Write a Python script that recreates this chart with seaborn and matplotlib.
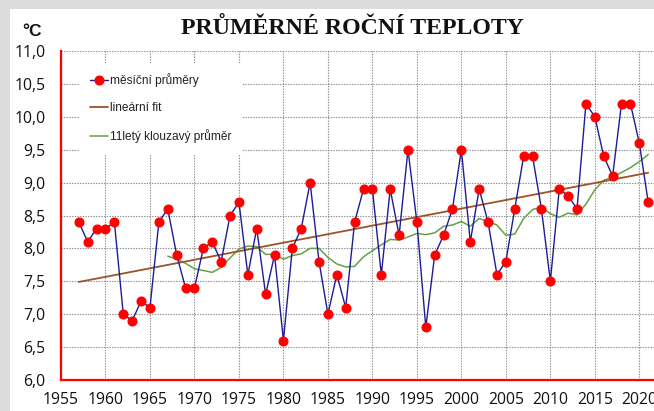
import numpy as np
import pandas as pd
import matplotlib
matplotlib.use("Agg")
import matplotlib.pyplot as plt
import seaborn as sns
from matplotlib.ticker import MultipleLocator, FuncFormatter
from matplotlib.patches import Rectangle

years = list(range(1957, 2022))
temps = [8.4, 8.1, 8.3, 8.3, 8.4, 7.0, 6.9, 7.2, 7.1, 8.4,
         8.6, 7.9, 7.4, 7.4, 8.0, 8.1, 7.8, 8.5, 8.7, 7.6,
         8.3, 7.3, 7.9, 6.6, 8.0, 8.3, 9.0, 7.8, 7.0, 7.6,
         7.1, 8.4, 8.9, 8.9, 7.6, 8.9, 8.2, 9.5, 8.4, 6.8,
         7.9, 8.2, 8.6, 9.5, 8.1, 8.9, 8.4, 7.6, 7.8, 8.6,
         9.4, 9.4, 8.6, 7.5, 8.9, 8.8, 8.6, 10.2, 10.0, 9.4,
         9.1, 10.2, 10.2, 9.6, 8.7]

label_main = "měsíční průměry"
label_fit = "lineární fit"
label_ma = "11letý klouzavý průměr"
title = "PRŮMĚRNÉ ROČNÍ TEPLOTY"
unit = "°C"

df = pd.DataFrame({"rok": years, "t": temps})
coef = np.polyfit(df["rok"], df["t"], 1)
df["fit"] = np.polyval(coef, df["rok"])
df["ma"] = df["t"].rolling(11).mean()

sns.set_style("white")
plt.rcParams["font.family"] = ["Open Sans", "DejaVu Sans"]

fig = plt.figure(figsize=(6.54, 4.11), dpi=100)
fig.patch.set_facecolor("#dcdcdc")
bg = Rectangle((10 / 654, 0), 1, 1 - 9 / 411, transform=fig.transFigure,
               facecolor="white", edgecolor="none", zorder=-10)
fig.patches.append(bg)

ax = fig.add_axes([61 / 654, 31 / 411, 1 - 61 / 654, 329 / 411])
ax.set_facecolor("white")
ax.set_zorder(1)

red = "#ff0000"
blue = "#1c1c98"
brown = "#9a5428"
green = "#65a046"

sns.lineplot(data=df, x="rok", y="ma", ax=ax, color=green, linewidth=1.1,
             label=label_ma, zorder=3)
sns.lineplot(data=df, x="rok", y="fit", ax=ax, color=brown, linewidth=1.3,
             label=label_fit, zorder=3)
sns.lineplot(data=df, x="rok", y="t", ax=ax, color=blue, linewidth=1.0,
             marker="o", markersize=6.5, markerfacecolor=red, markeredgecolor=red,
             label=label_main, zorder=4)

ax.set_xlim(1955, 2021.65)
ax.set_ylim(6.0, 11.0)
ax.xaxis.set_major_locator(MultipleLocator(5))
ax.xaxis.set_minor_locator(MultipleLocator(1))
ax.yaxis.set_major_locator(MultipleLocator(0.5))
ax.yaxis.set_major_formatter(FuncFormatter(lambda v, p: f"{v:.1f}".replace(".", ",")))
ax.set_xlabel("")
ax.set_ylabel("")

ax.grid(True, which="major", color="#8a8a8a", linestyle=(0, (1.2, 1.2)), linewidth=0.8)
ax.set_axisbelow(True)

for s in ["top", "right"]:
    ax.spines[s].set_visible(False)
for s in ["left", "bottom"]:
    ax.spines[s].set_color(red)
    ax.spines[s].set_linewidth(1.6)

ax.tick_params(axis="x", which="major", direction="inout", length=9, width=1.6,
               color=red, labelsize=11.3, pad=4, labelcolor="#111111")
ax.tick_params(axis="x", which="minor", direction="in", length=4, width=1.3, color=red)
ax.tick_params(axis="y", which="major", direction="out", length=4, width=1.6,
               color=red, labelsize=11.3, pad=7, labelcolor="#111111")

handles, labels = ax.get_legend_handles_labels()
order = [labels.index(label_main), labels.index(label_fit), labels.index(label_ma)]
leg = ax.legend([handles[i] for i in order], [labels[i] for i in order],
                loc="upper left", bbox_to_anchor=(0.031, 0.965), borderaxespad=0,
                frameon=True, facecolor="white", edgecolor="none", framealpha=1,
                fancybox=False, handlelength=1.5, handletextpad=0.2,
                labelspacing=1.25, borderpad=0.9,
                prop={"family": "Liberation Sans", "size": 8.6})
for t in leg.get_texts():
    t.set_color("#222222")
leg.set_zorder(5)

fig.text(352 / 654, 1 - 29 / 411, title, ha="center", va="center",
         fontfamily="Liberation Serif", fontweight="bold", fontsize=17.2, color="#111111")
fig.text(32 / 654, 1 - 31 / 411, unit, ha="center", va="center",
         fontfamily="Liberation Sans", fontweight="bold", fontsize=12.5, color="#111111")

fig.savefig("out.png", dpi=100, facecolor=fig.get_facecolor())
